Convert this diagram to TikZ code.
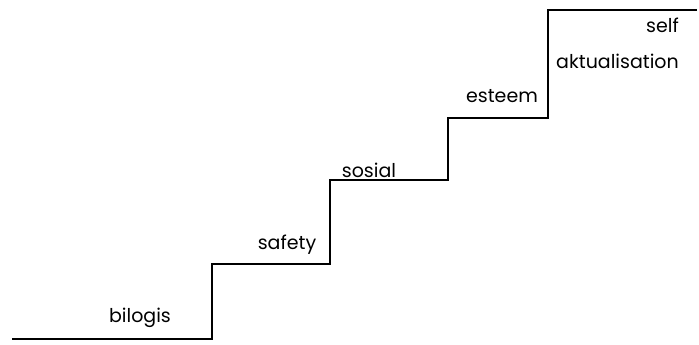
\documentclass[tikz,border=0pt]{standalone}
\usepackage{fontspec}
\setmainfont{Poppins}
\begin{document}
\begin{tikzpicture}[x=1pt,y=-1pt,
  stair/.style={line width=2.2pt,line join=miter},
  lbl/.style={font=\fontsize{19}{21}\selectfont,inner sep=0pt}]
\useasboundingbox (0,0) rectangle (699,345);
\coordinate (s0) at (12,339);
\coordinate (c1) at (212,339);
\coordinate (c2) at (212,264);
\coordinate (c3) at (330,264);
\coordinate (c4) at (330,180);
\coordinate (c5) at (448,180);
\coordinate (c6) at (448,118);
\coordinate (c7) at (548,118);
\coordinate (c8) at (548,10);
\coordinate (e) at (697,10);
\draw[stair] (s0) -- (c1) -- (c2) -- (c3) -- (c4) -- (c5) -- (c6) -- (c7) -- (c8) -- (e);
\node[lbl] (bilogis) at (140,318) {bilogis};
\node[lbl] (safety) at (287,245) {safety};
\node[lbl] (sosial) at (369,170) {sosial};
\node[lbl] (esteem) at (502,96) {esteem};
\node[lbl,anchor=east] (akt) at (679,61) {aktualisation};
\node[lbl,anchor=east] (self) at (679,25) {self};
\end{tikzpicture}
\end{document}
